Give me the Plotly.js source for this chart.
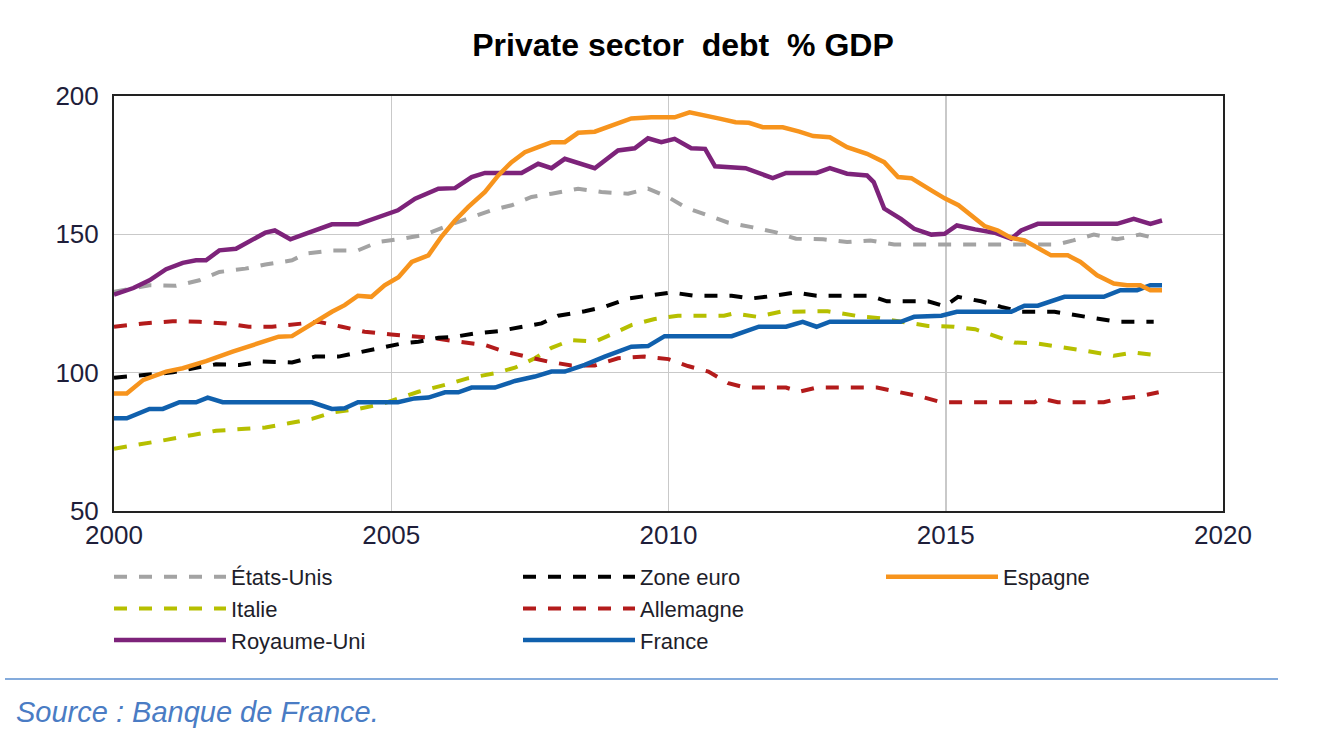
<!DOCTYPE html>
<html>
<head>
<meta charset="utf-8">
<script src="https://cdn.plot.ly/plotly-3.0.1.min.js"></script>
<style>
  html, body { margin: 0; padding: 0; background: #ffffff; }
  #chart { width: 1322px; height: 734px; }
</style>
</head>
<body>
<div id="chart"></div>
<script>
// ---- Data ----
const usYears = [2000.0,2000.64,2001.12,2001.54,2001.9,2002.37,2002.73,2003.21,2003.45,2003.93,2004.4,2004.76,2005.2,2005.61,2006.03,2006.45,2006.81,2007.17,2007.53,2007.89,2008.37,2008.79,2009.27,2009.63,2009.99,2010.32,2010.72,2011.08,2011.5,2011.92,2012.3,2012.79,2013.22,2013.64,2014.07,2017.0,2017.3,2017.67,2018.09,2018.5,2018.87];
const usValues = [129.2,131.6,131.4,133.4,136.4,137.6,139.1,140.6,143,144.2,144.2,147.2,148.4,149.9,153.2,156.3,158.7,160.5,163.5,164.7,166.5,165.3,164.7,166.5,163.5,159.6,156.9,154.2,152.6,150.8,148.4,148.2,147.2,147.8,146.3,146.3,147.8,149.9,148.2,149.9,148.2];

const ezYears = [2000.0,2000.64,2001.06,2001.48,2001.84,2002.26,2002.67,2003.21,2003.63,2004.05,2004.46,2004.88,2005.2,2005.49,2005.85,2006.15,2006.51,2006.93,2007.29,2007.71,2008.01,2008.49,2008.85,2009.27,2009.69,2010.05,2010.47,2011.14,2011.48,2011.75,2012.3,2012.67,2013.64,2013.94,2014.68,2014.98,2015.22,2015.64,2016.0,2016.36,2016.96,2017.37,2017.79,2018.09,2018.75];
const ezValues = [98.2,99.4,100.1,101.8,103,102.8,104,103.7,105.8,105.8,107.6,109.4,110.6,111.2,112.6,113,114.2,115,116.2,117.8,120.6,122.2,123.8,126.8,128,129,127.8,127.8,126.8,127.4,129,127.8,127.8,125.8,125.8,124,127.4,125.8,123.8,122,122,120.8,119.4,118.4,118.4];

const esYears = [2000.0,2000.23,2000.53,2000.94,2001.24,2001.66,2002.14,2002.61,2002.97,2003.21,2003.57,2003.93,2004.16,2004.4,2004.64,2004.88,2005.13,2005.37,2005.67,2005.9,2006.15,2006.39,2006.69,2006.93,2007.17,2007.41,2007.65,2007.89,2008.13,2008.37,2008.67,2008.97,2009.33,2009.69,2010.11,2010.38,2010.66,2010.9,2011.21,2011.45,2011.7,2012.06,2012.36,2012.61,2012.91,2013.22,2013.58,2013.89,2014.14,2014.38,2014.74,2014.98,2015.23,2015.47,2015.7,2015.94,2016.18,2016.42,2016.72,2016.9,2017.2,2017.43,2017.73,2018.03,2018.27,2018.51,2018.69,2018.9];
const esValues = [92.5,92.5,97.4,100.4,101.6,104.2,107.6,110.6,113,113.2,117.8,122,124.4,127.8,127.4,131.6,134.5,140,142.4,149,155,159.9,165.3,171.3,176.1,179.7,181.5,183.3,183.3,186.7,187.1,189.3,191.9,192.3,192.3,194.1,192.7,191.9,190.5,190.3,188.7,188.7,187.1,185.5,185.1,181.5,179.1,176.1,170.7,170.3,165.9,163,160.5,156.6,153,151.4,148.7,147.8,144.2,142.4,142.4,140,135.2,132.2,131.6,131.6,129.8,129.8];

const itYears = [2000.0,2000.53,2000.94,2001.42,2001.84,2002.37,2002.73,2003.15,2003.57,2003.93,2004.4,2004.82,2005.15,2005.49,2005.97,2006.39,2006.87,2007.23,2007.59,2007.89,2008.25,2008.67,2008.97,2009.33,2009.75,2010.17,2011.0,2011.17,2011.6,2012.02,2012.87,2013.5,2013.77,2014.19,2014.68,2015.15,2015.53,2015.88,2016.24,2016.66,2017.2,2017.55,2018.03,2018.39,2018.87];
const itValues = [72.5,74.2,75.7,77.5,79,79.7,80.2,81.7,83.3,85.6,86.9,88.6,91,93.1,95.6,98,99.8,101.8,105.2,109,111.8,111.2,113.8,117.2,119.4,120.6,120.6,121.4,120.2,122,122.2,120.2,119.8,118.6,116.9,116.6,115.7,113.3,110.9,110.5,109,107.8,106.1,107.3,106.1];

const deYears = [2000.0,2000.53,2001.06,2001.54,2002.02,2002.43,2002.85,2003.27,2003.69,2004.11,2004.52,2005.0,2005.4,2005.73,2006.21,2006.69,2007.05,2007.41,2007.83,2008.25,2008.67,2009.09,2009.57,2010.0,2010.35,2010.72,2011.08,2011.39,2012.12,2012.36,2012.67,2013.76,2014.13,2014.56,2014.92,2016.6,2016.72,2017.02,2017.85,2018.09,2018.45,2018.84];
const deValues = [116.6,117.8,118.6,118.4,117.8,116.6,116.6,117.4,118.4,116.6,114.8,113.8,113.2,112.6,111.2,110,107.6,105.8,104,102.6,102.6,105.2,105.8,104.9,102.4,100.4,96.2,94.6,94.6,93.1,94.6,94.6,93.1,91.3,89.3,89.3,90.7,89.3,89.3,90.5,91.3,92.9];

const ukYears = [2000.0,2000.35,2000.64,2000.94,2001.24,2001.48,2001.66,2001.9,2002.2,2002.43,2002.73,2002.9,2003.18,2003.45,2003.93,2004.4,2004.7,2005.12,2005.43,2005.85,2006.15,2006.45,2006.69,2007.35,2007.65,2007.89,2008.13,2008.67,2009.09,2009.39,2009.63,2009.87,2010.11,2010.41,2010.66,2010.84,2011.39,2011.88,2012.12,2012.67,2012.91,2013.22,2013.58,2013.7,2013.89,2014.19,2014.43,2014.74,2014.98,2015.2,2015.53,2015.88,2016.18,2016.36,2016.66,2018.09,2018.39,2018.69,2018.9];
const ukValues = [128.2,130.6,133.4,137.4,139.7,140.6,140.6,144.2,144.8,147.2,150.6,151.4,148.2,150.2,153.6,153.6,155.9,158.7,162.9,166.5,166.7,170.7,172.2,172.2,175.5,173.9,177.3,173.9,180.3,181.1,184.7,183.3,184.5,181.1,180.9,174.6,173.9,170.3,172.2,172.2,173.9,171.9,171.3,168.9,159.3,155.6,152,149.9,150.2,153.2,151.8,150.6,148.4,151.4,153.8,153.8,155.6,153.8,155];

const frYears = [2000.0,2000.23,2000.64,2000.88,2001.18,2001.48,2001.69,2001.96,2003.57,2003.93,2004.16,2004.4,2005.12,2005.42,2005.67,2005.97,2006.21,2006.45,2006.87,2007.23,2007.59,2007.89,2008.13,2008.49,2008.85,2009.33,2009.63,2009.93,2011.14,2011.63,2012.12,2012.42,2012.67,2012.91,2014.19,2014.43,2014.92,2015.2,2016.18,2016.42,2016.66,2017.14,2017.85,2018.15,2018.45,2018.69,2018.9];
const frValues = [83.5,83.5,86.9,86.9,89.3,89.3,91,89.3,89.3,86.9,87.1,89.3,89.3,90.7,91,92.9,92.9,94.6,94.6,97,98.6,100.4,100.4,102.8,105.8,109.4,109.6,113.2,113.2,116.6,116.6,118.4,116.6,118.4,118.4,120.2,120.6,122,122,124.2,124.2,127.4,127.4,129.8,129.8,131.6,131.6];

const seriesNames = ["États-Unis","Zone euro","Espagne","Italie","Allemagne","Royaume-Uni","France"];
const xTickVals = [2000, 2005, 2010, 2015, 2020];
const yTickVals = [50, 100, 150, 200];

// ---- Styles ----
const DASH = "13px,12px";
const dashedW = 4;
const solidW = 4.5;

const traces = [
  {x: usYears, y: usValues, name: seriesNames[0], legend: "legend",
   line: {color: "#a3a3a3", width: dashedW, dash: DASH}},
  {x: itYears, y: itValues, name: seriesNames[3], legend: "legend",
   line: {color: "#b6bf00", width: dashedW, dash: DASH}},
  {x: deYears, y: deValues, name: seriesNames[4], legend: "legend2",
   line: {color: "#b31b1b", width: dashedW, dash: DASH}},
  {x: ezYears, y: ezValues, name: seriesNames[1], legend: "legend2",
   line: {color: "#000000", width: dashedW, dash: DASH}},
  {x: frYears, y: frValues, name: seriesNames[6], legend: "legend2",
   line: {color: "#1060ad", width: solidW}},
  {x: ukYears, y: ukValues, name: seriesNames[5], legend: "legend",
   line: {color: "#7d237a", width: solidW}},
  {x: esYears, y: esValues, name: seriesNames[2], legend: "legend3",
   line: {color: "#f7941d", width: solidW}}
].map(t => Object.assign({type: "scatter", mode: "lines", hoverinfo: "skip"}, t));

// legend order inside each column
const rank = {"États-Unis":1, "Italie":2, "Royaume-Uni":3, "Zone euro":1, "Allemagne":2, "France":3, "Espagne":1};
traces.forEach(t => { t.legendrank = rank[t.name]; });

const FONT = "'Liberation Sans', Arial, sans-serif";
const legendCommon = {
  xref: "container", yref: "container", yanchor: "top", xanchor: "left",
  orientation: "v", bgcolor: "rgba(0,0,0,0)", borderwidth: 0,
  font: {family: FONT, size: 22, color: "#1e1e2a"},
  itemwidth: 112, tracegroupgap: 0, traceorder: "normal"
};

const W = 1322, H = 734;
const plotL = 114, plotR = 1223, plotT = 96, plotB = 511;
const pw = plotR - plotL, ph = plotB - plotT;
const px = v => (v - plotL) / pw;
const py = v => (plotB - v) / ph;

const legTop = 1 - 556 / H;

const layout = {
  width: W, height: H,
  margin: {l: plotL, r: W - plotR, t: plotT, b: H - plotB, pad: 0, autoexpand: false},
  paper_bgcolor: "#ffffff", plot_bgcolor: "#ffffff",
  showlegend: true,
  title: {
    text: "<b>Private sector  debt  % GDP</b>",
    x: 683 / W, xanchor: "center", y: 1 - 45 / H, yanchor: "middle",
    font: {family: FONT, size: 32, color: "#000000"}
  },
  xaxis: {
    range: [2000, 2020], tickmode: "array", tickvals: xTickVals,
    ticktext: xTickVals.map(String),
    showgrid: true, gridcolor: "#c9c9c9", gridwidth: 1.5,
    showline: true, linecolor: "#222222", linewidth: 2, mirror: true,
    ticks: "", ticklabelstandoff: 0, zeroline: false, automargin: false,
    tickfont: {family: FONT, size: 26, color: "#1e1e3a"}
  },
  yaxis: {
    range: [50, 200], tickmode: "array", tickvals: yTickVals,
    ticktext: yTickVals.map(String),
    showgrid: true, gridcolor: "#c9c9c9", gridwidth: 1.5,
    showline: true, linecolor: "#222222", linewidth: 2, mirror: true,
    ticks: "", ticklabelstandoff: 8, zeroline: false, automargin: false,
    tickfont: {family: FONT, size: 26, color: "#1e1e3a"}
  },
  legend: Object.assign({}, legendCommon, {x: 109 / W, y: legTop}),
  legend2: Object.assign({}, legendCommon, {x: 518 / W, y: legTop}),
  legend3: Object.assign({}, legendCommon, {x: 881 / W, y: legTop}),
  shapes: [{
    type: "line", xref: "paper", yref: "paper",
    x0: px(5), x1: px(1278), y0: py(679), y1: py(679),
    line: {color: "#5b8fd0", width: 1.5}
  }],
  annotations: [{
    xref: "paper", yref: "paper", x: px(14), y: py(712),
    xanchor: "left", yanchor: "middle", showarrow: false,
    text: "<i>Source : Banque de France.</i>",
    font: {family: FONT, size: 29, color: "#4a7cc4"}
  }]
};

Plotly.newPlot("chart", traces, layout, {displayModeBar: false, staticPlot: true});
</script>
</body>
</html>
